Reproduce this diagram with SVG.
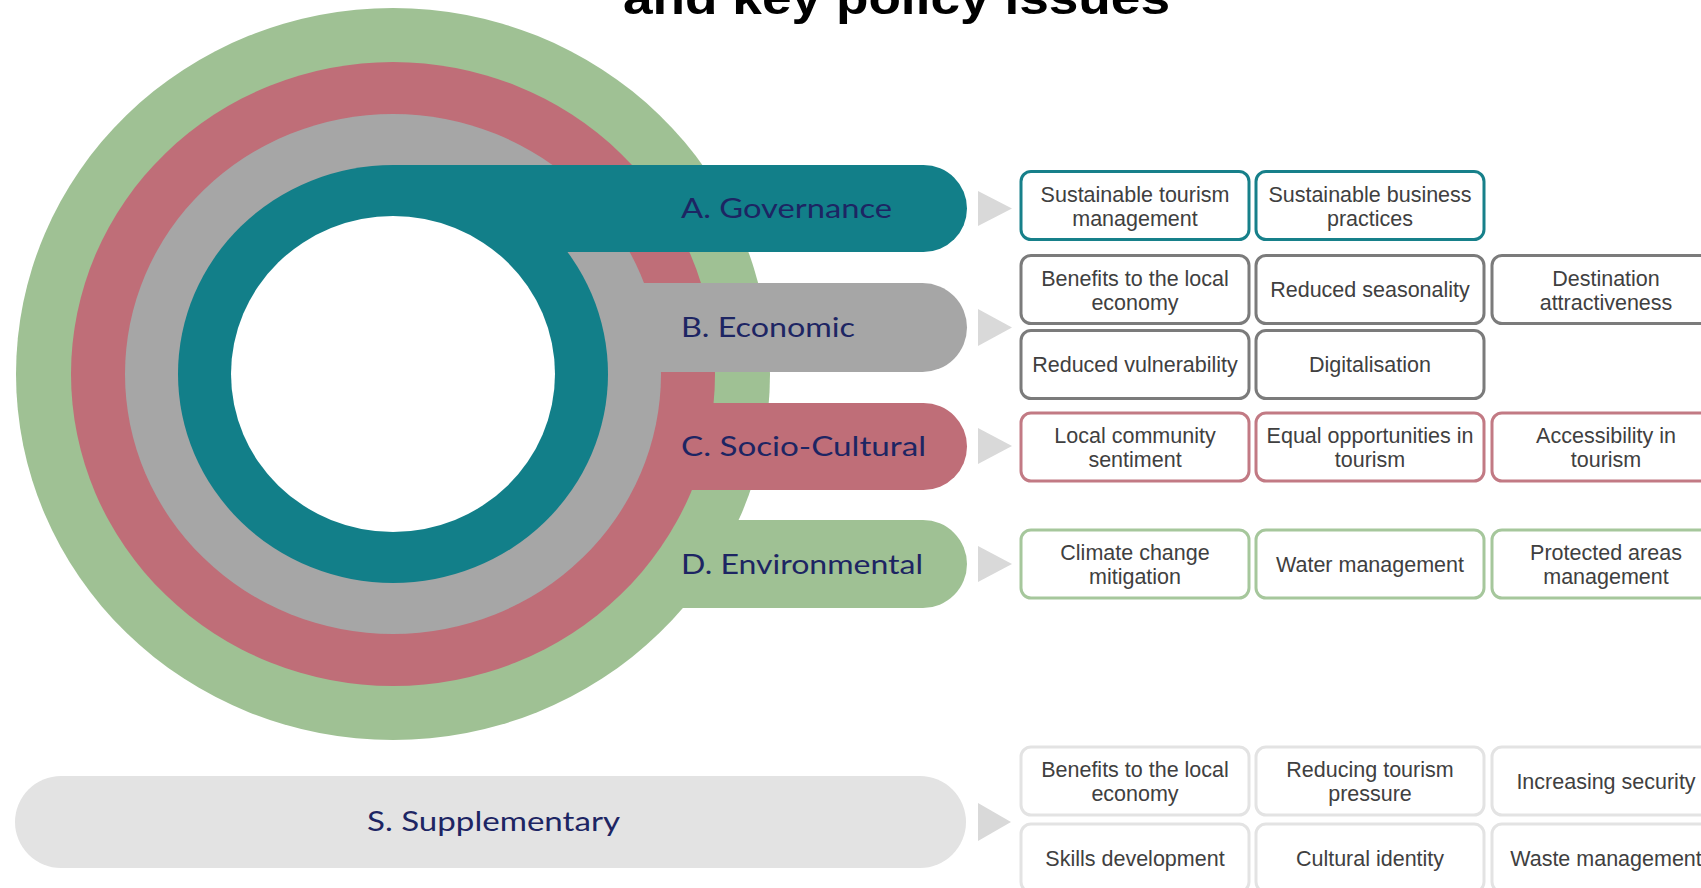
<svg xmlns="http://www.w3.org/2000/svg" width="1701" height="888" viewBox="0 0 1701 888">
<style>
.lbl{font-family:"Lato","Noto Sans",sans-serif;font-size:26px;fill:#1d2563;}
.bx{fill:#ffffff;stroke-width:3;}
.bt{font-family:"Liberation Sans",Arial,sans-serif;font-size:21.5px;fill:#404040;text-anchor:middle;}
.ga{stroke:#17808a;}
.gb{stroke:#7b7b7b;}
.gc{stroke:#c27a84;}
.gd{stroke:#a6c79c;}
.gs{stroke:#e3e3e3;}
.arr{fill:#d9d9d9;}
</style>
<rect width="1701" height="888" fill="#ffffff"/>
<text x="623" y="14" font-family="Liberation Sans, Arial, sans-serif" font-weight="bold" font-size="46" textLength="547" lengthAdjust="spacingAndGlyphs" fill="#000000">and key policy issues</text>

<g id="ring-d">
<ellipse cx="393" cy="374" rx="377" ry="366" fill="#9fc194"/>
<path d="M393 520 H923 A44 44 0 0 1 923 608 H393 Z" fill="#9fc194"/>
</g>
<g id="ring-c">
<ellipse cx="393" cy="374" rx="322" ry="312" fill="#bf6e78"/>
<path d="M393 403 H923.5 A43.5 43.5 0 0 1 923.5 490 H393 Z" fill="#bf6e78"/>
</g>
<g id="ring-b">
<ellipse cx="393" cy="374" rx="268" ry="260" fill="#a6a6a6"/>
<path d="M393 283 H922.5 A44.5 44.5 0 0 1 922.5 372 H393 Z" fill="#a6a6a6"/>
</g>
<g id="ring-a">
<ellipse cx="393" cy="374" rx="215" ry="209" fill="#127f89"/>
<path d="M393 165 H923.5 A43.5 43.5 0 0 1 923.5 252 H393 Z" fill="#127f89"/>
</g>
<ellipse id="center" cx="393" cy="374" rx="162" ry="158" fill="#ffffff"/>

<g id="label-a"><text class="lbl" x="681" y="218" textLength="211" lengthAdjust="spacingAndGlyphs">A. Governance</text></g>
<g id="label-b"><text class="lbl" x="681" y="337" textLength="174" lengthAdjust="spacingAndGlyphs">B. Economic</text></g>
<g id="label-c"><text class="lbl" x="681" y="456" textLength="245" lengthAdjust="spacingAndGlyphs">C. Socio-Cultural</text></g>
<g id="label-d"><text class="lbl" x="681" y="574" textLength="242" lengthAdjust="spacingAndGlyphs">D. Environmental</text></g>

<g id="supplementary">
<rect x="15" y="776" width="951" height="92" rx="46" fill="#e3e3e3"/>
<text class="lbl" x="367" y="831" textLength="253" lengthAdjust="spacingAndGlyphs">S. Supplementary</text>
</g>

<g id="connectors">
<polygon class="arr" points="978,191 1012,208.5 978,226"/>
<polygon class="arr" points="978,309 1012,327.5 978,346"/>
<polygon class="arr" points="978,428 1012,446 978,464"/>
<polygon class="arr" points="978,546 1012,564 978,582"/>
<polygon class="arr" points="978,803 1011,822 978,841"/>
</g>

<g id="a1"><rect class="bx ga" x="1021" y="171.5" width="228" height="68" rx="10"/><text class="bt" x="1135" y="201.5">Sustainable tourism</text><text class="bt" x="1135" y="225.5">management</text></g>
<g id="a2"><rect class="bx ga" x="1256" y="171.5" width="228" height="68" rx="10"/><text class="bt" x="1370" y="201.5">Sustainable business</text><text class="bt" x="1370" y="225.5">practices</text></g>

<g id="b1"><rect class="bx gb" x="1021" y="255.5" width="228" height="68" rx="10"/><text class="bt" x="1135" y="285.5">Benefits to the local</text><text class="bt" x="1135" y="309.5">economy</text></g>
<g id="b2"><rect class="bx gb" x="1256" y="255.5" width="228" height="68" rx="10"/><text class="bt" x="1370" y="297">Reduced seasonality</text></g>
<g id="b3"><rect class="bx gb" x="1492" y="255.5" width="228" height="68" rx="10"/><text class="bt" x="1606" y="285.5">Destination</text><text class="bt" x="1606" y="309.5">attractiveness</text></g>
<g id="b4"><rect class="bx gb" x="1021" y="330.5" width="228" height="68" rx="10"/><text class="bt" x="1135" y="372">Reduced vulnerability</text></g>
<g id="b5"><rect class="bx gb" x="1256" y="330.5" width="228" height="68" rx="10"/><text class="bt" x="1370" y="372">Digitalisation</text></g>

<g id="c1"><rect class="bx gc" x="1021" y="413" width="228" height="68" rx="10"/><text class="bt" x="1135" y="443">Local community</text><text class="bt" x="1135" y="467">sentiment</text></g>
<g id="c2"><rect class="bx gc" x="1256" y="413" width="228" height="68" rx="10"/><text class="bt" x="1370" y="443">Equal opportunities in</text><text class="bt" x="1370" y="467">tourism</text></g>
<g id="c3"><rect class="bx gc" x="1492" y="413" width="228" height="68" rx="10"/><text class="bt" x="1606" y="443">Accessibility in</text><text class="bt" x="1606" y="467">tourism</text></g>

<g id="d1"><rect class="bx gd" x="1021" y="530" width="228" height="68" rx="10"/><text class="bt" x="1135" y="560">Climate change</text><text class="bt" x="1135" y="584">mitigation</text></g>
<g id="d2"><rect class="bx gd" x="1256" y="530" width="228" height="68" rx="10"/><text class="bt" x="1370" y="571.5">Water management</text></g>
<g id="d3"><rect class="bx gd" x="1492" y="530" width="228" height="68" rx="10"/><text class="bt" x="1606" y="560">Protected areas</text><text class="bt" x="1606" y="584">management</text></g>

<g id="s1"><rect class="bx gs" x="1021" y="747" width="228" height="68" rx="10"/><text class="bt" x="1135" y="777">Benefits to the local</text><text class="bt" x="1135" y="801">economy</text></g>
<g id="s2"><rect class="bx gs" x="1256" y="747" width="228" height="68" rx="10"/><text class="bt" x="1370" y="777">Reducing tourism</text><text class="bt" x="1370" y="801">pressure</text></g>
<g id="s3"><rect class="bx gs" x="1492" y="747" width="228" height="68" rx="10"/><text class="bt" x="1606" y="788.5">Increasing security</text></g>
<g id="s4"><rect class="bx gs" x="1021" y="824" width="228" height="68" rx="10"/><text class="bt" x="1135" y="865.5">Skills development</text></g>
<g id="s5"><rect class="bx gs" x="1256" y="824" width="228" height="68" rx="10"/><text class="bt" x="1370" y="865.5">Cultural identity</text></g>
<g id="s6"><rect class="bx gs" x="1492" y="824" width="228" height="68" rx="10"/><text class="bt" x="1606" y="865.5">Waste management</text></g>
</svg>
